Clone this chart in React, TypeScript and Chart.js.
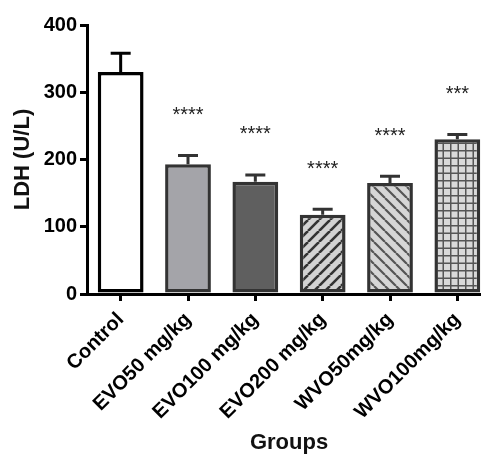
import React, { useEffect, useRef } from "react";
import { Chart, registerables } from "chart.js";

Chart.register(...registerables);

const categories = ["Control", "EVO50 mg/kg", "EVO100 mg/kg", "EVO200 mg/kg", "WVO50mg/kg", "WVO100mg/kg"];
const ldhValues = [330, 193, 167, 118, 165, 230];
const ldhErrors = [28, 13, 10, 8, 10, 7];
const significance = ["", "****", "****", "****", "****", "***"];
const yTicks = [0, 100, 200, 300, 400];

function makePattern(kind: string): CanvasPattern | string {
  const c = document.createElement("canvas");
  const ctx = c.getContext("2d");
  if (!ctx) return "#d4d4d4";
  if (kind === "grid") {
    const s = 7.5;
    c.width = 15;
    c.height = 15;
    ctx.fillStyle = "#d9d9d9";
    ctx.fillRect(0, 0, 15, 15);
    ctx.strokeStyle = "#555";
    ctx.lineWidth = 1.5;
    ctx.beginPath();
    for (let i = 0; i < 2; i++) {
      ctx.moveTo(i * s + 0.75, 0);
      ctx.lineTo(i * s + 0.75, 15);
      ctx.moveTo(0, i * s + 0.75);
      ctx.lineTo(15, i * s + 0.75);
    }
    ctx.stroke();
  } else {
    const s = 11;
    c.width = s;
    c.height = s;
    ctx.fillStyle = kind === "fwd" ? "#d2d2d2" : "#d6d6d6";
    ctx.fillRect(0, 0, s, s);
    ctx.strokeStyle = kind === "fwd" ? "#333" : "#555";
    ctx.lineWidth = kind === "fwd" ? 2.6 : 2.2;
    ctx.beginPath();
    if (kind === "fwd") {
      for (let k = -1; k <= 1; k++) {
        ctx.moveTo(k * s, s);
        ctx.lineTo(k * s + s, 0);
      }
    } else {
      for (let k = -1; k <= 1; k++) {
        ctx.moveTo(k * s, 0);
        ctx.lineTo(k * s + s, s);
      }
    }
    ctx.stroke();
  }
  const p = ctx.createPattern(c, "repeat");
  return p || "#d4d4d4";
}

const errorBarPlugin = {
  id: "errorBars",
  afterDatasetsDraw(chart: any) {
    const ctx = chart.ctx;
    const meta = chart.getDatasetMeta(0);
    const yScale = chart.scales.y;
    meta.data.forEach((el: any, i: number) => {
      const top = yScale.getPixelForValue(ldhValues[i] + ldhErrors[i]);
      const color = i === 0 ? "#000" : "#333";
      ctx.save();
      ctx.strokeStyle = color;
      ctx.lineWidth = 3;
      ctx.beginPath();
      ctx.moveTo(el.x, el.y);
      ctx.lineTo(el.x, top);
      ctx.moveTo(el.x - 10, top);
      ctx.lineTo(el.x + 10, top);
      ctx.stroke();
      if (significance[i]) {
        ctx.fillStyle = "#222";
        ctx.font = "20px 'Liberation Sans', Arial, sans-serif";
        ctx.textAlign = "center";
        ctx.textBaseline = "middle";
        ctx.fillText(significance[i], el.x, top - 40);
      }
      ctx.restore();
    });
  },
};

const FAMILY = "'Liberation Sans', Arial, sans-serif";

export default function App() {
  const ref = useRef<HTMLCanvasElement | null>(null);
  useEffect(() => {
    if (!ref.current) return;
    const fills: any[] = ["#ffffff", "#a4a4a9", "#5f5f5f", makePattern("fwd"), makePattern("back"), makePattern("grid")];
    const borders = ["#000", "#333", "#333", "#333", "#333", "#333"];
    const chart = new Chart(ref.current, {
      type: "bar",
      data: {
        labels: categories,
        datasets: [
          {
            data: ldhValues,
            backgroundColor: fills,
            borderColor: borders,
            borderWidth: 3.5,
            borderSkipped: false,
            categoryPercentage: 1,
            barPercentage: 0.68,
          },
        ],
      },
      options: {
        responsive: false,
        animation: false,
        devicePixelRatio: 1,
        layout: { padding: { top: 25, right: 9, left: 0, bottom: 0 } },
        plugins: { legend: { display: false }, tooltip: { enabled: false } },
        scales: {
          x: {
            grid: { display: true, offset: false, drawOnChartArea: false, drawTicks: true, tickLength: 7, color: "#000", lineWidth: 3 },
            border: { display: true, color: "#000", width: 3 },
            ticks: {
              color: "#000",
              font: { family: FAMILY, size: 20, weight: "bold" },
              maxRotation: 45,
              minRotation: 45,
              padding: 7,
              autoSkip: false,
            },
            title: {
              display: true,
              text: "Groups",
              color: "#111",
              font: { family: FAMILY, size: 22, weight: "bold", lineHeight: 1.0 },
              padding: { top: 0, bottom: 0 },
            },
            afterFit(scale: any) {
              scale.height = 160;
            },
          },
          y: {
            min: 0,
            max: 400,
            grid: { display: true, drawOnChartArea: false, drawTicks: true, tickLength: 7, color: "#000", lineWidth: 3 },
            border: { display: true, color: "#000", width: 3 },
            afterBuildTicks(scale: any) {
              scale.ticks = yTicks.map((v) => ({ value: v }));
            },
            ticks: {
              color: "#000",
              font: { family: FAMILY, size: 20, weight: "bold" },
              padding: 3,
            },
            title: {
              display: true,
              text: "LDH (U/L)",
              color: "#111",
              font: { family: FAMILY, size: 22, weight: "bold", lineHeight: 1.0 },
              padding: { top: 11.5, bottom: 0 },
            },
            afterFit(scale: any) {
              scale.width = 87;
            },
          },
        },
      },
      plugins: [errorBarPlugin],
    });
    return () => chart.destroy();
  }, []);
  return (
    <div style={{ position: "fixed", left: 0, top: 0, width: 481, height: 454, overflow: "hidden", background: "#fff" }}>
      <canvas ref={ref} width={500} height={454} style={{ display: "block" }} />
    </div>
  );
}
